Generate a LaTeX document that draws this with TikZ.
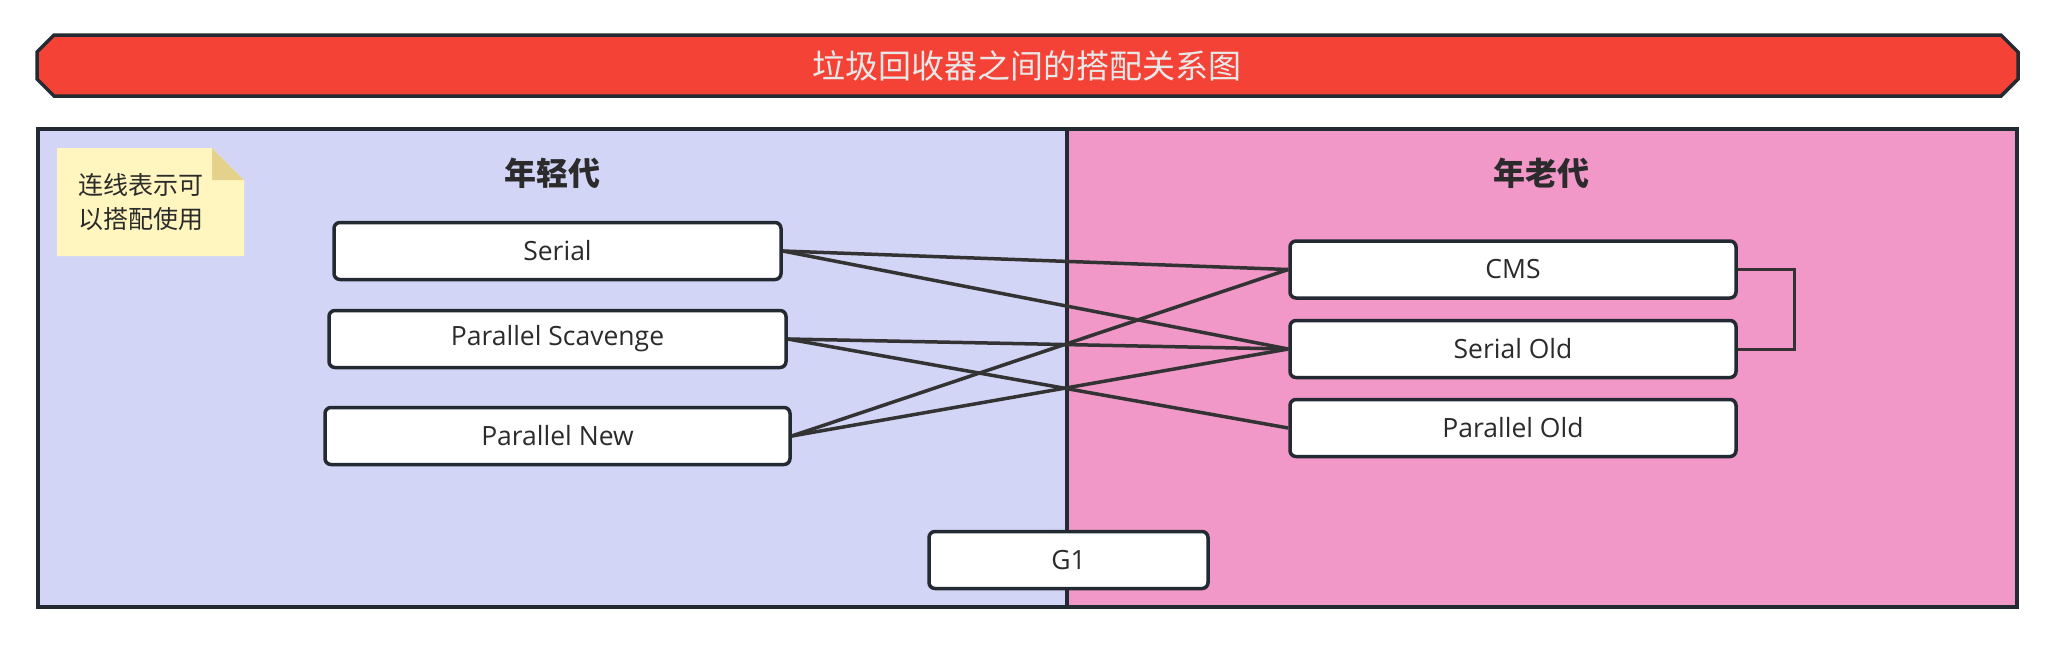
\documentclass[tikz,border=0pt]{standalone}
\usepackage{fontspec}
\setmainfont{Open Sans}
\newfontfamily\cjk{Noto Sans CJK SC}
\definecolor{edge}{HTML}{232A31}
\definecolor{wire}{HTML}{333333}
\definecolor{bannerred}{HTML}{F44336}
\definecolor{young}{HTML}{D3D5F7}
\definecolor{old}{HTML}{F198C9}
\definecolor{notey}{HTML}{FFF5BF}
\definecolor{notefold}{HTML}{E4D18B}
\definecolor{titletext}{HTML}{E8E8E8}
\definecolor{labeltext}{HTML}{2B2B2B}
\tikzset{
  gcbox/.style={draw=edge, line width=3.5pt, fill=white, rounded corners=6pt,
    minimum height=57pt, text=labeltext, font=\fontsize{26.5}{30}\selectfont, inner sep=0pt},
  wireline/.style={draw=wire, line width=3.5pt},
  heading/.style={font=\cjk\bfseries\fontsize{32}{36}\selectfont, text=labeltext},
}
\begin{document}
\begin{tikzpicture}[x=1pt,y=-1pt]
\useasboundingbox (0,0) rectangle (2058,649);
% banner
\draw[fill=bannerred, draw=edge, line width=3.5pt, line join=miter]
  (54,35) -- (2001,35) -- (2018,52) -- (2018,79) -- (2001,96) -- (54,96) -- (37,79) -- (37,52) -- cycle;
\node[font=\cjk\fontsize{33}{36}\selectfont, text=titletext] (title) at (1027,66) {垃圾回收器之间的搭配关系图};
% panels
\fill[young] (38,129) rectangle (1067,607);
\fill[old] (1067,129) rectangle (2017,607);
\draw[edge, line width=3.5pt] (1067,129) -- (1067,607);
\draw[edge, line width=4pt] (38,129) rectangle (2017,607);
% note
\fill[notey] (57,148) -- (212,148) -- (244,180) -- (244,256) -- (57,256) -- cycle;
\fill[notefold] (212,148) -- (212,180) -- (244,180) -- cycle;
\node[anchor=west, align=left, font=\cjk\fontsize{25}{34}\selectfont, text=labeltext, inner sep=0pt] (note) at (78,202) {连线表示可\\以搭配使用};
% headings
\node[heading] (younghead) at (552,173) {年轻代};
\node[heading] (oldhead) at (1541,173) {年老代};
% boxes
\node[gcbox, minimum width=447pt] (serial) at (557.5,251) {Serial};
\node[gcbox, minimum width=457pt] (ps) at (557.5,339) {Parallel Scavenge};
\node[gcbox, minimum width=465pt] (pn) at (557.5,436) {Parallel New};
\node[gcbox, minimum width=446pt] (cms) at (1513,269.5) {CMS};
\node[gcbox, minimum width=446pt] (so) at (1513,349) {Serial Old};
\node[gcbox, minimum width=446pt] (po) at (1513,428) {Parallel Old};
\node[gcbox, minimum width=279pt] (g1) at (1068.5,560) {G1};
% connections
\draw[wireline] (serial.east) -- (cms.west);
\draw[wireline] (serial.east) -- (so.west);
\draw[wireline] (ps.east) -- (so.west);
\draw[wireline] (ps.east) -- (po.west);
\draw[wireline] (pn.east) -- (cms.west);
\draw[wireline] (pn.east) -- (so.west);
\draw[wireline, line width=3pt] (cms.east) -- ([xshift=57pt]cms.east) |- (so.east);
\end{tikzpicture}
\end{document}
